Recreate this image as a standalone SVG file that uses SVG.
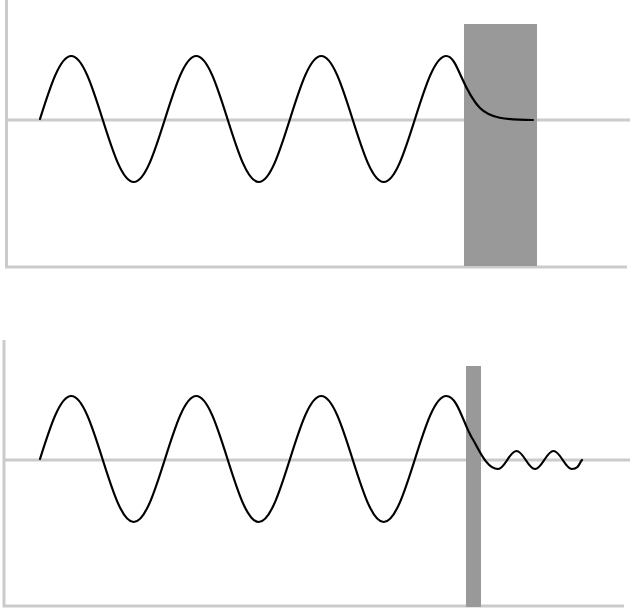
<svg xmlns="http://www.w3.org/2000/svg" width="630" height="611" viewBox="0 0 630 611">
<style>
.axis{stroke:#cbcbcb;stroke-width:3;fill:none}
.bar{fill:#999999}
.wave{stroke:#000;stroke-width:2.2;fill:none;stroke-linecap:round;stroke-linejoin:round}
</style>
<rect width="630" height="611" fill="#fff"/>
<g id="top-panel">
<path class="axis" d="M6.5,0 V267 H627"/>
<path class="axis" d="M7,120 H630"/>
<rect class="bar" x="464" y="24" width="73" height="242"/>
<path class="wave" d="M40,119 C50.19,86.73 59.94,56 71.25,56 S92.31,86.73 102.5,119 S122.44,182 133.75,182 S154.81,151.27 165,119 S184.94,56 196.25,56 S217.31,86.73 227.5,119 S247.44,182 258.75,182 S279.81,151.27 290,119 S309.94,56 321.25,56 S342.31,86.73 352.5,119 S372.44,182 383.75,182 S404.81,151.27 415,119 S434.94,56 446.25,56 C457.56,56 462,90 480,108 C490,118 505,120 533,120"/>
</g>
<g id="bottom-panel">
<path class="axis" d="M4,340 V606 H624"/>
<path class="axis" d="M4,460 H630"/>
<rect class="bar" x="466" y="366" width="15" height="241"/>
<path class="wave" d="M40,459 C50.19,426.73 59.94,396 71.25,396 S92.31,426.73 102.5,459 S122.44,522 133.75,522 S154.81,491.27 165,459 S184.94,396 196.25,396 S217.31,426.73 227.5,459 S247.44,522 258.75,522 S279.81,491.27 290,459 S309.94,396 321.25,396 S342.31,426.73 352.5,459 S372.44,522 383.75,522 S404.81,491.27 415,459 S434.94,396 446.25,396 C457.56,396 463,423 472,438 C478,447 486,469 498,469 C505,469 509.5,451 516.5,451 S528,469 535,469 S546.5,451 553.5,451 S565,469 572,469 S579,463 582,460"/>
</g>
</svg>
